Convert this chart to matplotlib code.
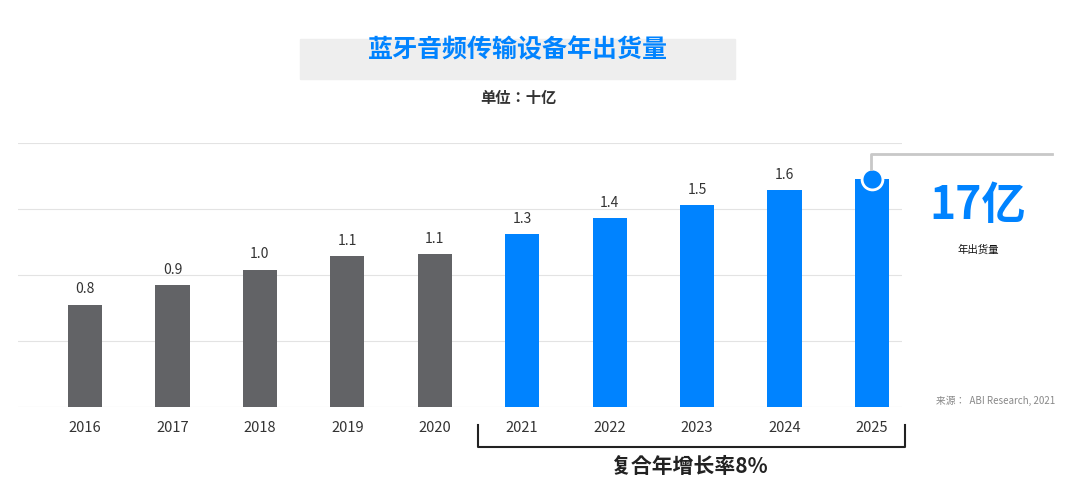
import matplotlib
matplotlib.use("Agg")
import matplotlib.pyplot as plt
from matplotlib.patches import Rectangle
from matplotlib import font_manager as fm

cjk = [f.name for f in fm.fontManager.ttflist if "CJK" in f.name]
pref = [n for n in cjk if "SC" in n] or cjk
plt.rcParams["font.family"] = "sans-serif"
plt.rcParams["font.sans-serif"] = (pref[:1] if pref else []) + ["Noto Sans CJK SC", "Noto Sans CJK JP", "DejaVu Sans"]

years = ["2016", "2017", "2018", "2019", "2020", "2021", "2022", "2023", "2024", "2025"]
heights = [1.55, 1.85, 2.08, 2.29, 2.32, 2.62, 2.86, 3.06, 3.29, 3.45]
labels = ["0.8", "0.9", "1.0", "1.1", "1.1", "1.3", "1.4", "1.5", "1.6", ""]
colors = ["#626366"] * 5 + ["#0083ff"] * 5

W, H = 1080, 502
fig = plt.figure(figsize=(W / 100, H / 100), dpi=100)

def fx(px): return px / W
def fy(py): return 1 - py / H

ax = fig.add_axes([fx(18), fy(408), fx(902) - fx(18), (408 - 144) / H])
x = list(range(len(years)))
ax.bar(x, heights, width=0.39, color=colors, zorder=3)
for xi, h, lab in zip(x, heights, labels):
    if lab:
        ax.text(xi, h + 0.14, lab, ha="center", va="bottom", fontsize=10, color="#333333")
ax.set_xlim(-0.767, 9.344)
ax.set_ylim(0, 4)
for g in [1, 2, 3, 4]:
    ax.axhline(g, color="#e3e3e3", lw=0.8, zorder=1)
ax.axhline(0, color="#d0d0d0", lw=0.8, zorder=1)
for s in ax.spines.values():
    s.set_visible(False)
ax.set_yticks([])
ax.set_xticks(x)
ax.set_xticklabels(years, fontsize=10.5, color="#333333")
ax.tick_params(length=0, pad=9)

ax.plot([9], [heights[-1]], "o", ms=15, color="#0083ff", mec="white", mew=2, zorder=5, clip_on=False)

fig.add_artist(plt.Line2D([fx(871), fx(871), fx(1052)], [fy(170), fy(155), fy(155)],
                          color="#c8c8c8", lw=2))

fig.add_artist(Rectangle((fx(300), fy(80)), fx(735) - fx(300), (80 - 40) / H,
                         color="#eeeeee", zorder=0))
fig.text(fx(518), fy(50), "蓝牙音频传输设备年出货量", ha="center", va="center",
         fontsize=18, fontweight="bold", color="#0083ff")
fig.text(fx(518), fy(98), "单位：十亿", ha="center", va="center",
         fontsize=11, fontweight="bold", color="#333333")

fig.text(fx(978), fy(206), "17亿", ha="center", va="center",
         fontsize=32, fontweight="bold", color="#0083ff")
fig.text(fx(978), fy(250), "年出货量", ha="center", va="center",
         fontsize=7.5, color="#111111")
fig.text(fx(1055), fy(401), "来源：  ABI Research, 2021", ha="right", va="center",
         fontsize=7, style="italic", color="#888888")

fig.add_artist(plt.Line2D([fx(478), fx(478), fx(905), fx(905)],
                          [fy(426), fy(448), fy(448), fy(426)], color="#222222", lw=1.5))
fig.text(fx(690), fy(467), "复合年增长率8%", ha="center", va="center",
         fontsize=15, fontweight="bold", color="#222222")

fig.savefig("out.png", dpi=100)
